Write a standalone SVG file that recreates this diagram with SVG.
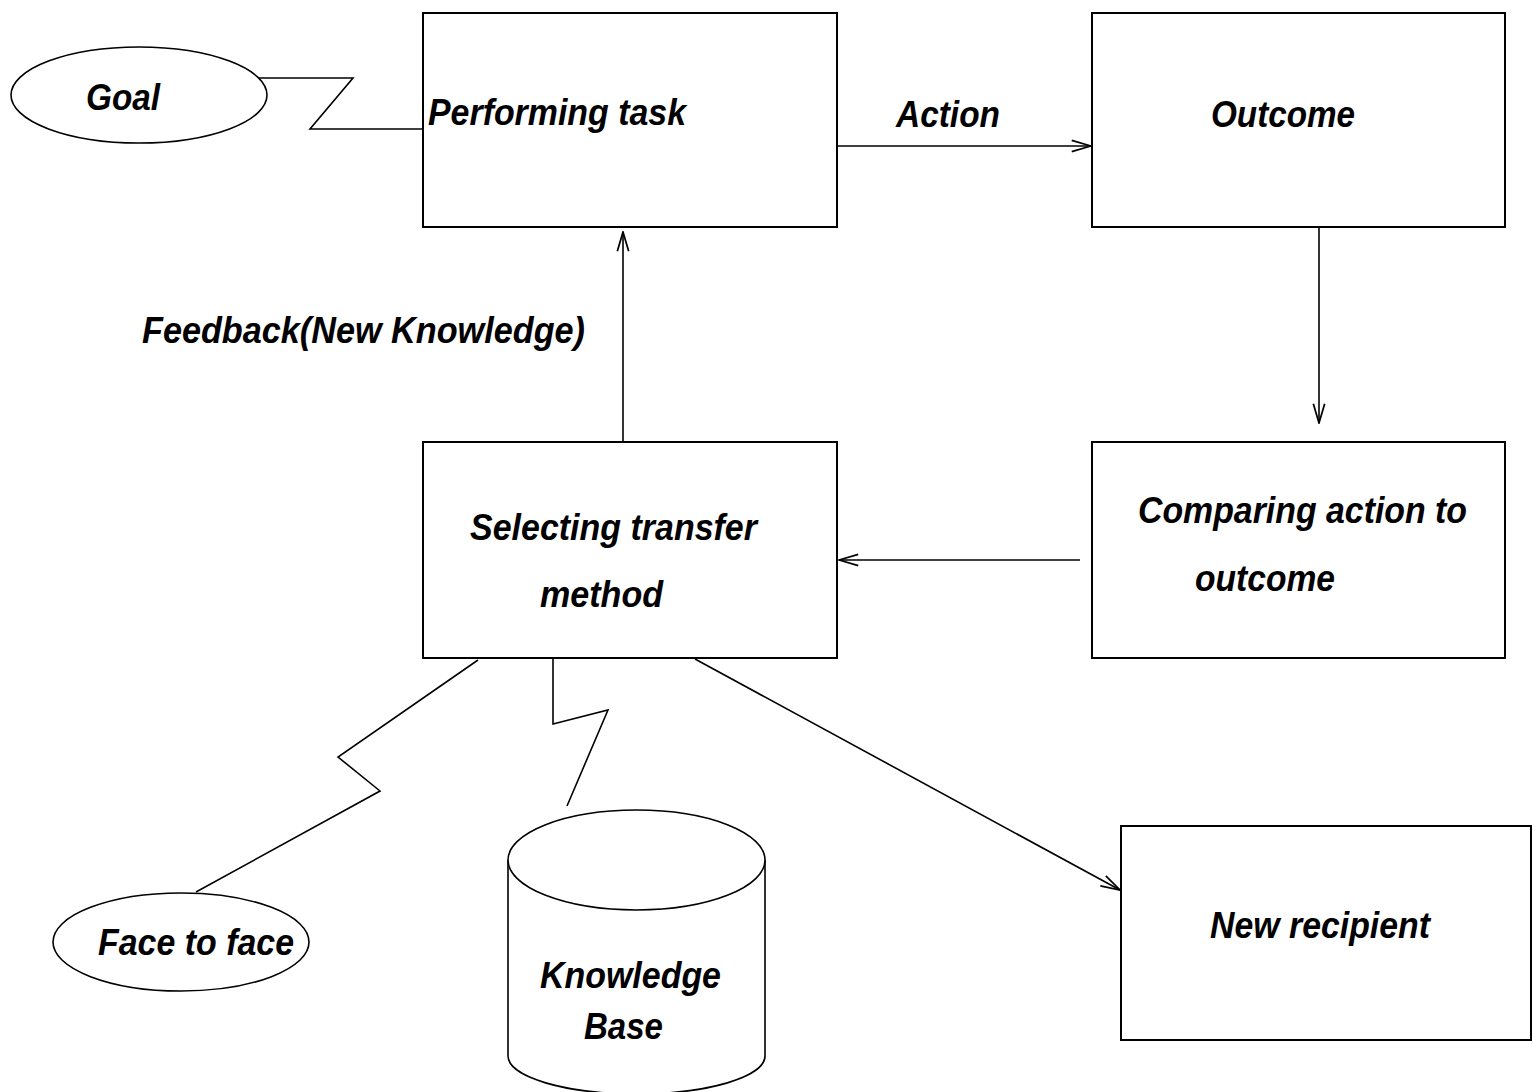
<svg xmlns="http://www.w3.org/2000/svg" width="1533" height="1092" viewBox="0 0 1533 1092">
  <style>
    .box { fill: #ffffff; stroke: #000000; stroke-width: 2; }
    .shape { fill: #ffffff; stroke: #000000; stroke-width: 1.6; }
    .line { fill: none; stroke: #000000; stroke-width: 1.6; }
    .lbl { font-family: "Liberation Sans", Arial, sans-serif; font-size: 37px; font-weight: bold; font-style: italic; fill: #000000; }
  </style>
  <defs>
    <marker id="open" viewBox="0 0 24 16" refX="23" refY="8" markerWidth="22" markerHeight="14" markerUnits="userSpaceOnUse" orient="auto">
      <path d="M1,1.5 L23,8 L1,14.5" fill="none" stroke="#000000" stroke-width="2"/>
    </marker>
  </defs>
  <rect width="1533" height="1092" fill="#ffffff"/>

  <g id="connectors">
    <polyline class="line" points="258,78 353,78 310,129 423,129"/>
    <line class="line" x1="837" y1="146" x2="1091" y2="146" marker-end="url(#open)"/>
    <line class="line" x1="1319" y1="227" x2="1319" y2="423" marker-end="url(#open)"/>
    <line class="line" x1="1080" y1="560" x2="839" y2="560" marker-end="url(#open)"/>
    <line class="line" x1="623" y1="442" x2="623" y2="232" marker-end="url(#open)"/>
    <line class="line" x1="695" y1="659" x2="1120" y2="890" marker-end="url(#open)"/>
    <polyline class="line" points="478,660 338,757 380,791 196,892"/>
    <polyline class="line" points="553,659 553,724 608,710 567,806"/>
  </g>

  <g id="goal">
    <ellipse class="shape" cx="139" cy="95" rx="128" ry="48"/>
    <text class="lbl" x="86" y="110" textLength="74" lengthAdjust="spacingAndGlyphs">Goal</text>
  </g>

  <g id="performing-task">
    <rect class="box" x="423" y="13" width="414" height="214"/>
    <text class="lbl" x="428" y="125" textLength="258" lengthAdjust="spacingAndGlyphs">Performing task</text>
  </g>

  <g id="action-label">
    <text class="lbl" x="896" y="127" textLength="104" lengthAdjust="spacingAndGlyphs">Action</text>
  </g>

  <g id="outcome">
    <rect class="box" x="1092" y="13" width="413" height="214"/>
    <text class="lbl" x="1211" y="127" textLength="144" lengthAdjust="spacingAndGlyphs">Outcome</text>
  </g>

  <g id="feedback-label">
    <text class="lbl" x="142" y="343" textLength="443" lengthAdjust="spacingAndGlyphs">Feedback(New Knowledge)</text>
  </g>

  <g id="selecting-transfer-method">
    <rect class="box" x="423" y="442" width="414" height="216"/>
    <text class="lbl" x="470" y="540" textLength="287" lengthAdjust="spacingAndGlyphs">Selecting transfer</text>
    <text class="lbl" x="540" y="607" textLength="123" lengthAdjust="spacingAndGlyphs">method</text>
  </g>

  <g id="comparing">
    <rect class="box" x="1092" y="442" width="413" height="216"/>
    <text class="lbl" x="1138" y="523" textLength="329" lengthAdjust="spacingAndGlyphs">Comparing action to</text>
    <text class="lbl" x="1195" y="591" textLength="140" lengthAdjust="spacingAndGlyphs">outcome</text>
  </g>

  <g id="new-recipient">
    <rect class="box" x="1121" y="826" width="410" height="214"/>
    <text class="lbl" x="1210" y="938" textLength="220" lengthAdjust="spacingAndGlyphs">New recipient</text>
  </g>

  <g id="face-to-face">
    <ellipse class="shape" cx="181" cy="942" rx="128" ry="49"/>
    <text class="lbl" x="98" y="955" textLength="196" lengthAdjust="spacingAndGlyphs">Face to face</text>
  </g>

  <g id="knowledge-base">
    <path class="shape" d="M508,860 L508,1056 A128.5,38 0 0 0 765,1056 L765,860"/>
    <ellipse class="shape" cx="636.5" cy="860" rx="128.5" ry="50"/>
    <text class="lbl" x="540" y="988" textLength="181" lengthAdjust="spacingAndGlyphs">Knowledge</text>
    <text class="lbl" x="584" y="1039" textLength="79" lengthAdjust="spacingAndGlyphs">Base</text>
  </g>
</svg>
